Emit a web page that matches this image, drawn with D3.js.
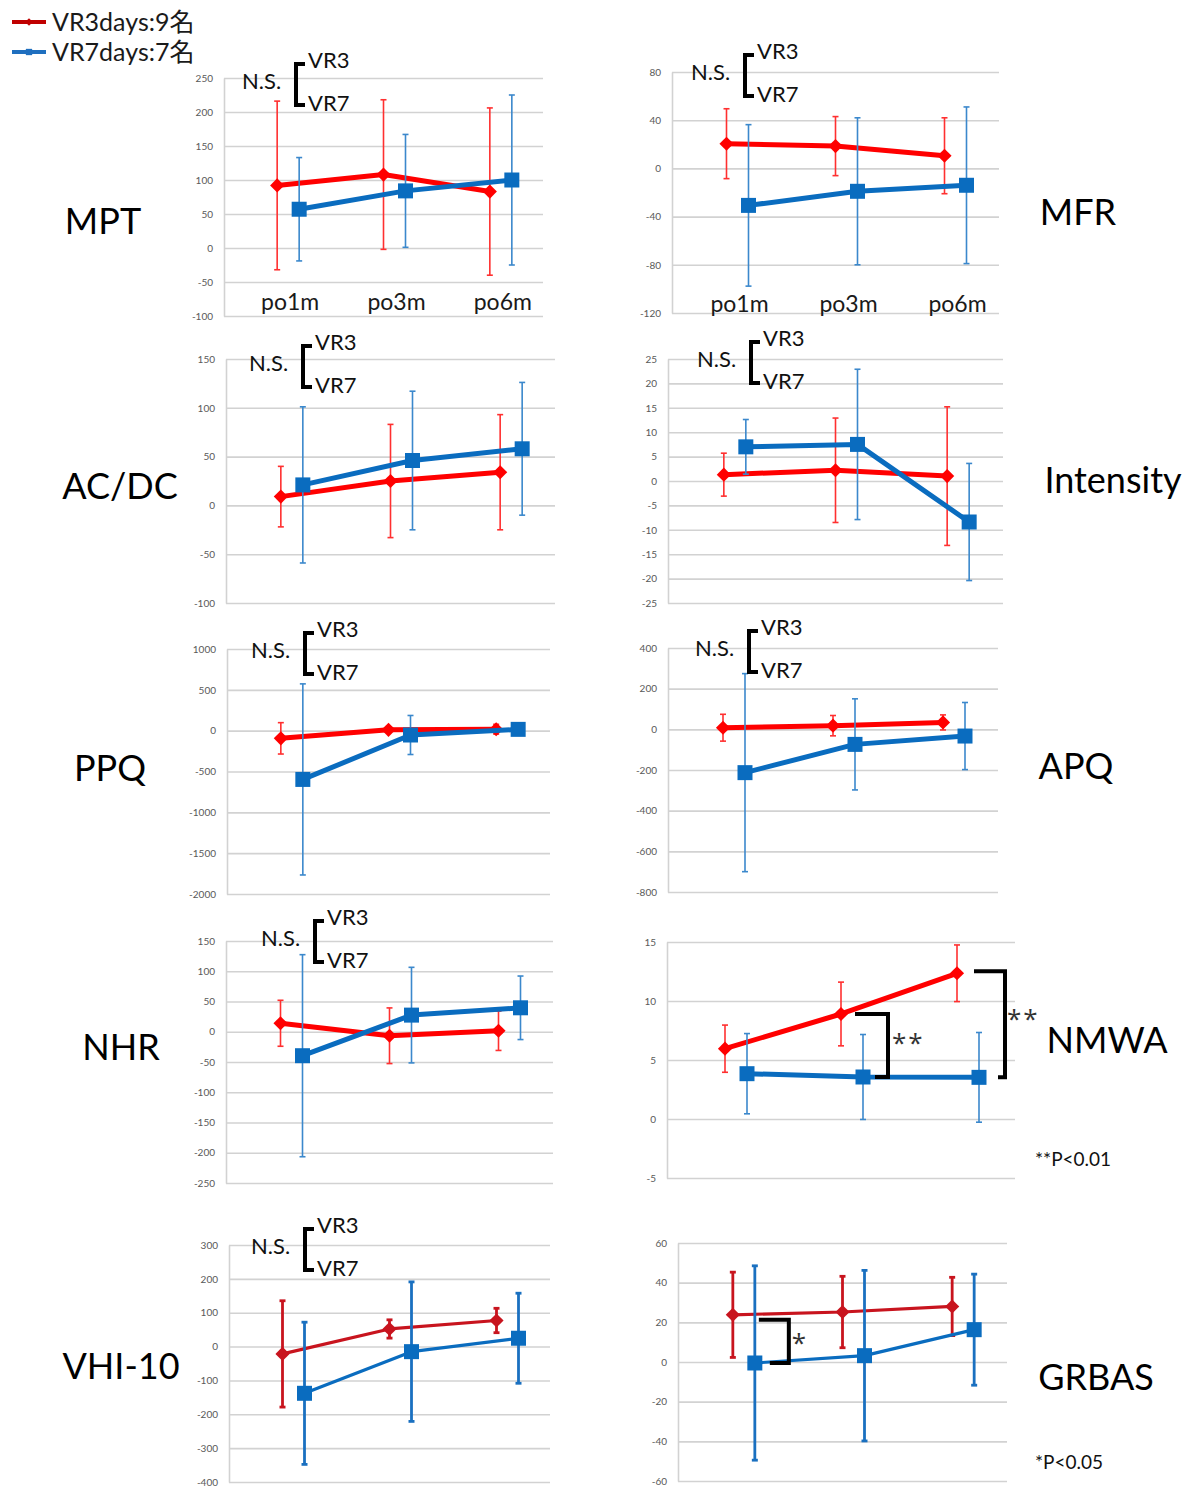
<!DOCTYPE html>
<html>
<head>
<meta charset="utf-8">
<title>VR3 vs VR7</title>
<script src="https://cdnjs.cloudflare.com/ajax/libs/d3/7.8.5/d3.min.js"></script>
<style>
  body { margin: 0; background: #fff; }
  svg text { font-family: Lato, 'Open Sans', 'Noto Sans CJK JP', sans-serif; }
  svg text.star { font-family: 'Open Sans', Lato, sans-serif; }
</style>
</head>
<body>
<svg width="1195" height="1490" class="svg-panels"></svg>
<script>
// ---- data ----
var categories = ['po1m', 'po3m', 'po6m']
var metrics = ['MPT', 'MFR', 'AC/DC', 'Intensity', 'PPQ', 'APQ', 'NHR', 'NMWA', 'VHI-10', 'GRBAS']
var seriesNames = ['VR3days:9名', 'VR7days:7名']
var yMin  = [-100, -120, -100, -25, -2000, -800, -250, -5, -400, -60]
var yMax  = [250, 80, 150, 25, 1000, 400, 150, 15, 300, 60]
var yStep = [50, 40, 50, 5, 500, 200, 50, 5, 100, 20]

var vr3Mean = [[92, 108, 83], [20.5, 18.5, 10.5], [9, 25, 34], [1.3, 2.2, 1], [-94, 10, 18],
               [8, 18, 34], [14, -6.6, 1.6], [5.96, 8.9, 12.35], [-21.7, 52, 77], [23.8, 25.2, 28]]
var vr3Sd   = [[124, 110, 123], [29, 24.5, 31.5], [31, 58, 59], [4.4, 10.7, 14.2], [192, 25, 60],
               [66, 50, 37], [38, 46, 32.5], [2.0, 2.7, 2.4], [157, 27, 36], [21.5, 18, 14.7]]
var vr7Mean = [[57, 84, 100], [-30.7, -19, -14], [21, 46, 58], [7, 7.5, -8.4], [-597, -53, 16],
               [-213, -74, -33], [-39.6, 27.5, 39.6], [3.84, 3.56, 3.53], [-138, -15, 24.6], [-0.5, 3.2, 16.3]]
var vr7Sd   = [[76, 83, 125], [67, 61, 65], [80, 71, 68], [5.6, 15.4, 12], [1170, 239, 40],
               [487, 224, 165], [167, 79, 52.5], [3.4, 3.6, 3.8], [210, 206, 133], [49, 43, 28]]

var nsText = 'N.S.'
var sigPanel = [7, 7, 9]
var sigCat = [1, 2, 0]
var sigMark = ['**', '**', '*']
var pNotes = [{panel: 7, text: '**P<0.01'}, {panel: 9, text: '*P<0.05'}]

// ---- layout ----
var boxes = [
  {x0: 224, y0: 78,   x1: 543,  y1: 316,  lx: 103,  ly: 221,  ns: [242, 81]},
  {x0: 672, y0: 72,   x1: 999,  y1: 313,  lx: 1078, ly: 212,  ns: [691, 72]},
  {x0: 226, y0: 359,  x1: 555,  y1: 603,  lx: 120,  ly: 486,  ns: [249, 363]},
  {x0: 668, y0: 359,  x1: 1003, y1: 603,  lx: 1113, ly: 480,  ns: [697, 359]},
  {x0: 227, y0: 649,  x1: 550,  y1: 894,  lx: 110,  ly: 768,  ns: [251, 650]},
  {x0: 668, y0: 648,  x1: 998,  y1: 892,  lx: 1076, ly: 766,  ns: [695, 648]},
  {x0: 226, y0: 941,  x1: 553,  y1: 1183, lx: 121,  ly: 1047, ns: [261, 938]},
  {x0: 667, y0: 942,  x1: 1015, y1: 1178, lx: 1107, ly: 1040, ns: null},
  {x0: 229, y0: 1245, x1: 550,  y1: 1482, lx: 121,  ly: 1366, ns: [251, 1246]},
  {x0: 678, y0: 1243, x1: 1007, y1: 1481, lx: 1096, ly: 1377, ns: null}
]
var sigShape = [
  {top: 14, bottom: 34, side: 47, tx: 51, ty: -5, dyTop: 0},
  {top: 17, bottom: 41, side: 48, tx: 50, ty: -8, dyTop: -2},
  {top: 26, bottom: 37, side: 56, tx: 59, ty: -1, dyTop: 5}
]
var blueShift = 22

var svg = d3.select('.svg-panels')

// legend
var legendColors = ['#c00000', '#1f6fbf']
seriesNames.forEach(function(name, k){
  var ly = 22 + k * 30
  svg.append('line')
    .attr('x1', 12).attr('x2', 46).attr('y1', ly).attr('y2', ly)
    .attr('stroke', legendColors[k]).attr('stroke-width', 4)
  svg.append('path')
    .attr('d', d3.symbol().type(d3.symbolSquare).size(k === 0 ? 30 : 40)())
    .attr('transform', 'translate(29,' + ly + ')' + (k === 0 ? ' rotate(45)' : ''))
    .attr('fill', legendColors[k])
  svg.append('text')
    .attr('x', 52).attr('y', ly).attr('dy', '0.35em')
    .style('font-size', '25px').attr('fill', '#1a1a1a')
    .text(name)
})

metrics.forEach(function(name, i){
  var box = boxes[i]
  var heavy = i < 8
  var g = svg.append('g')

  var x = d3.scaleBand().domain(categories).range([box.x0, box.x1])
  var y = d3.scaleLinear().domain([yMin[i], yMax[i]]).range([box.y1, box.y0])
  var ticks = d3.range(yMin[i], yMax[i] + yStep[i] / 2, yStep[i])
  var cx = function(c){ return x(c) + x.bandwidth() / 2 }

  // gridlines
  g.append('g')
    .attr('transform', 'translate(' + box.x0 + ',0)')
    .call(d3.axisRight(y).tickValues(ticks).tickSize(box.x1 - box.x0).tickFormat(''))
    .call(function(a){
      a.select('.domain').remove()
      a.selectAll('line').attr('stroke', '#d2d2d2').attr('stroke-width', 1.6)
    })

  // y axis
  g.append('g')
    .attr('transform', 'translate(' + box.x0 + ',0)')
    .call(d3.axisLeft(y).tickValues(ticks).tickSize(0).tickPadding(11)
      .tickFormat(function(d){ return String(d) }))
    .call(function(a){
      a.select('.domain').attr('stroke', '#d2d2d2').attr('stroke-width', 1.6)
      a.selectAll('text').attr('fill', '#595959').style('font-size', '10px')
    })

  var series = [
    {mean: vr3Mean[i], sd: vr3Sd[i], dx: 0, line: heavy ? '#ff0000' : '#c8141e',
     err: heavy ? '#ff3030' : '#c8141e', diamond: true},
    {mean: vr7Mean[i], sd: vr7Sd[i], dx: blueShift, line: '#0a6cbf',
     err: heavy ? '#3b88cc' : '#1a70c0', diamond: false}
  ]

  series.forEach(function(s){
    var pts = categories.map(function(c, j){ return {c: c, v: s.mean[j], sd: s.sd[j]} })
    var px = function(d){ return cx(d.c) + s.dx }
    var eb = g.append('g').attr('stroke', s.err).attr('stroke-width', heavy ? 1.6 : 2.8)
    eb.selectAll('.bar').data(pts).enter().append('line')
      .attr('x1', px).attr('x2', px)
      .attr('y1', function(d){ return y(d.v + d.sd) })
      .attr('y2', function(d){ return y(d.v - d.sd) })
    eb.selectAll('.capHi').data(pts).enter().append('line')
      .attr('x1', function(d){ return px(d) - 3 }).attr('x2', function(d){ return px(d) + 3 })
      .attr('y1', function(d){ return y(d.v + d.sd) }).attr('y2', function(d){ return y(d.v + d.sd) })
    eb.selectAll('.capLo').data(pts).enter().append('line')
      .attr('x1', function(d){ return px(d) - 3 }).attr('x2', function(d){ return px(d) + 3 })
      .attr('y1', function(d){ return y(d.v - d.sd) }).attr('y2', function(d){ return y(d.v - d.sd) })

    g.append('path')
      .datum(pts)
      .attr('fill', 'none')
      .attr('stroke', s.line)
      .attr('stroke-width', heavy ? 5 : 3.2)
      .attr('stroke-linejoin', 'round')
      .attr('d', d3.line().x(px).y(function(d){ return y(d.v) }))

    g.selectAll('.mk').data(pts).enter().append('path')
      .attr('d', d3.symbol().type(d3.symbolSquare).size(s.diamond ? 100 : 225)())
      .attr('transform', function(d){
        return 'translate(' + px(d) + ',' + y(d.v) + ')' + (s.diamond ? ' rotate(45)' : '')
      })
      .attr('fill', s.line)
  })

  // category labels on the first row
  if (i < 2) {
    g.selectAll('.cat').data(categories).enter().append('text')
      .attr('x', function(c){ return cx(c) + 13 })
      .attr('y', i === 0 ? box.y1 - 14 : box.y1 - 9)
      .attr('dy', '0.35em')
      .attr('text-anchor', 'middle')
      .style('font-size', '23px').attr('fill', '#1a1a1a')
      .text(function(c){ return c })
  }

  // N.S. bracket
  if (box.ns) {
    var nx = box.ns[0], ny = box.ns[1]
    g.append('text').attr('x', nx).attr('y', ny).attr('dy', '0.35em')
      .style('font-size', '22px').attr('fill', '#111').text(nsText)
    g.append('path')
      .attr('d', 'M' + (nx + 63) + ',' + (ny - 17) + 'H' + (nx + 54) + 'V' + (ny + 24) + 'H' + (nx + 63))
      .attr('fill', 'none').attr('stroke', '#000').attr('stroke-width', 4)
    g.append('text').attr('x', nx + 66).attr('y', ny - 21).attr('dy', '0.35em')
      .style('font-size', '22px').attr('fill', '#111').text('VR3')
    g.append('text').attr('x', nx + 66).attr('y', ny + 22).attr('dy', '0.35em')
      .style('font-size', '22px').attr('fill', '#111').text('VR7')
  }

  // metric label
  g.append('text')
    .attr('x', box.lx).attr('y', box.ly).attr('dy', '0.35em')
    .attr('text-anchor', 'middle')
    .style('font-size', '36px').attr('fill', '#000')
    .text(name)

  // significance brackets
  sigPanel.forEach(function(p, k){
    if (p !== i) return
    var c = categories[sigCat[k]], sh = sigShape[k]
    var j = sigCat[k]
    var xc = cx(c)
    var yt = y(vr3Mean[i][j]) + sh.dyTop, yb = y(vr7Mean[i][j])
    g.append('path')
      .attr('d', 'M' + (xc + sh.top) + ',' + yt + 'H' + (xc + sh.side) + 'V' + yb + 'H' + (xc + sh.bottom))
      .attr('fill', 'none').attr('stroke', '#000').attr('stroke-width', 4)
    g.append('text')
      .attr('class', 'star')
      .attr('x', xc + sh.tx).attr('y', (yt + yb) / 2 + sh.ty).attr('dy', '0.45em')
      .style('font-size', '26px').style('letter-spacing', '2px').attr('fill', '#333')
      .text(sigMark[k])
  })

  pNotes.forEach(function(n){
    if (n.panel !== i) return
    g.append('text')
      .attr('x', 1035).attr('y', box.y1 - 19).attr('dy', '0.35em')
      .style('font-size', '19px').attr('fill', '#111')
      .text(n.text)
  })
})
</script>
</body>
</html>
